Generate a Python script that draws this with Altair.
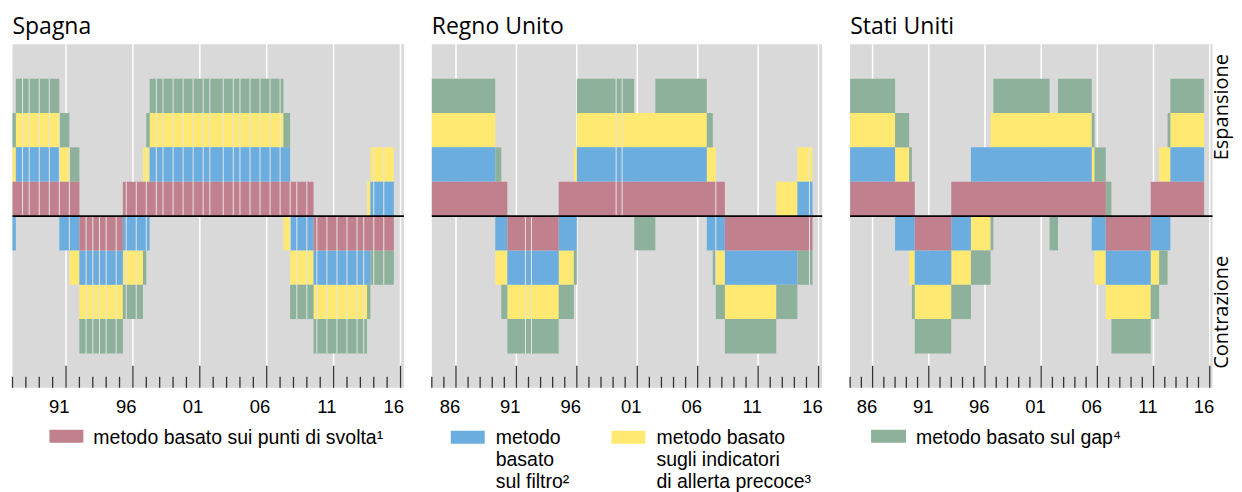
import altair as alt
import pandas as pd

# ---------------- data ----------------
METHOD_KEYS = ["svolta", "filtro", "allerta", "gap"]
METHOD_COLORS = ["#C1808E", "#6CADDF", "#FFE973", "#8DB19B"]
LEGEND_TEXT = [
    "metodo basato sui punti di svolta¹",
    "metodo\nbasato\nsul filtro²",
    "metodo basato\nsugli indicatori\ndi allerta precoce³",
    "metodo basato sul gap⁴",
]

PANEL_TITLES = ["Spagna", "Regno Unito", "Stati Uniti"]
DATA_START = [1988.0, 1985.0, 1985.0]
DATA_END = [2016.5, 2016.5, 2016.5]
AXIS_START = [1988.0, 1985.0, 1985.0]
AXIS_END = [2017.25, 2017.3, 2017.25]

# contraction phases (start, end) for each method; expansion otherwise
ES_SVOLTA = [(1993.0, 1996.25), (2010.5, 2016.5)]
ES_FILTRO = [(1988.0, 1988.25), (1991.5, 1998.25), (2008.75, 2014.75)]
ES_ALLERTA = [(1992.25, 1997.75), (2008.25, 2014.5)]
ES_GAP = [(1993.0, 1998.0), (2008.75, 2016.5)]

UK_SVOLTA = [(1991.25, 1995.5), (2009.25, 2016.5)]
UK_FILTRO = [(1990.25, 1997.0), (2007.75, 2015.25)]
UK_ALLERTA = [(1990.25, 1996.75), (2008.5, 2013.5)]
UK_GAP = [(1990.75, 1997.0), (2001.75, 2003.5), (2008.25, 2016.5)]

US_SVOLTA = [(1990.75, 1994.0), (2007.75, 2011.75)]
US_FILTRO = [(1989.0, 1995.75), (2006.5, 2013.5)]
US_ALLERTA = [(1990.25, 1997.5), (2006.75, 2012.5)]
US_GAP = [(1990.5, 1997.75), (2002.75, 2003.5), (2008.25, 2013.25)]

PHASES = [
    [ES_SVOLTA, ES_FILTRO, ES_ALLERTA, ES_GAP],
    [UK_SVOLTA, UK_FILTRO, UK_ALLERTA, UK_GAP],
    [US_SVOLTA, US_FILTRO, US_ALLERTA, US_GAP],
]

# thin light seams visible inside the bars of the original
ES_SEAMS = [1988.75, 1989.25, 1990.0, 1990.75, 1991.5, 1992.25, 1993.5, 1994.0, 1994.5,
            1995.0, 1995.75, 1996.5, 1997.25, 1998.0, 1998.75, 1999.25, 2000.0, 2000.75,
            2001.5, 2002.25, 2002.75, 2003.75, 2004.5, 2005.0, 2005.75, 2006.5, 2007.25,
            2008.0, 2008.75, 2009.25, 2010.0, 2010.75, 2011.5, 2012.25, 2013.0, 2013.75,
            2014.25, 2015.0, 2015.75]
UK_SEAMS = [1992.75, 1993.25, 2000.25, 2000.75, 2008.5, 2016.25]
US_SEAMS = []
SEAMS = [ES_SEAMS, UK_SEAMS, US_SEAMS]

MAJOR_TICKS = [1987, 1992, 1997, 2002, 2007, 2012, 2017]
TICK_LABEL_YEARS = [1986, 1991, 1996, 2001, 2006, 2011, 2016]
TICK_LABELS = ["86", "91", "96", "01", "06", "11", "16"]

SIDE_LABELS = ["Espansione", "Contrazione"]
SIDE_LABEL_Y = [3.17, -2.8]

# ---------------- layout ----------------
WIDTHS = [392, 391, 363]
HEIGHT = 344
STEP = 0.25


def states(start, end, phases):
    n = int(round((end - start) / STEP))
    out = []
    for i in range(n):
        q = start + STEP * i
        mid = q + STEP / 2
        out.append((q, [any(a <= mid < b for a, b in ph) for ph in phases]))
    return out


def stacked_runs(start, end, phases):
    """Quarterly +1/-1 states stacked from zero, merged into runs."""
    rows = []
    for q, contr in states(start, end, phases):
        pos, neg = 0, 0
        for key, c in zip(METHOD_KEYS, contr):
            if c:
                rows.append([key, q, q + STEP, neg, neg - 1])
                neg -= 1
            else:
                rows.append([key, q, q + STEP, pos, pos + 1])
                pos += 1
    rows.sort(key=lambda r: (r[0], r[3], r[4], r[1]))
    merged = []
    for r in rows:
        m = merged[-1] if merged else None
        if m and m[0] == r[0] and m[3] == r[3] and m[4] == r[4] and abs(m[2] - r[1]) < 1e-9:
            m[2] = r[2]
        else:
            merged.append(list(r))
    return pd.DataFrame(merged, columns=["method", "x0", "x1", "y0", "y1"])


def seam_rows(start, end, phases, seams):
    st = {round(q, 3): c for q, c in states(start, end, phases)}
    rows = []
    for s in seams:
        before = st.get(round(s - STEP, 3))
        after = st.get(round(s, 3))
        if before is None or after is None:
            continue
        top = min(sum(1 for c in before if not c), sum(1 for c in after if not c))
        bot = min(sum(1 for c in before if c), sum(1 for c in after if c))
        rows.append([s, -bot, top])
    return pd.DataFrame(rows, columns=["year", "lo", "hi"])


cscale = alt.Scale(domain=METHOD_KEYS, range=METHOD_COLORS)
ys = alt.Scale(domain=[-5, 5], nice=False, zero=False)

LEGEND_ITEMS = [
    [(0, 37, 71, 386, 399, 81, 400)],
    [(1, 19, 53, 387, 400, 64, 400), (2, 180, 214, 387, 400, 225, 400)],
    [(3, 21, 56, 386, 399, 66, 400)],
]


def panel(i):
    xs = alt.Scale(domain=[AXIS_START[i], AXIS_END[i]], nice=False, zero=False)
    w = WIDTHS[i]
    majors = [y for y in MAJOR_TICKS if AXIS_START[i] <= y <= AXIS_END[i]]
    minors = [y for y in range(int(AXIS_START[i]), int(AXIS_END[i]) + 1) if y not in majors]
    labs = [(y + 0.5, l) for y, l in zip(TICK_LABEL_YEARS, TICK_LABELS) if y >= AXIS_START[i]]

    grid = alt.Chart(pd.DataFrame({"year": majors})).mark_rule(color="white", strokeWidth=1.5).encode(
        x=alt.X("year:Q", scale=xs, axis=None)
    )
    df = stacked_runs(DATA_START[i], DATA_END[i], PHASES[i])
    bars = alt.Chart(df).mark_rect().encode(
        x=alt.X("x0:Q", scale=xs, axis=None),
        x2="x1:Q",
        y=alt.Y("y0:Q", scale=ys, axis=None),
        y2="y1:Q",
        color=alt.Color("method:N", scale=cscale, legend=None),
    )
    layers = [grid, bars]

    sdf = seam_rows(DATA_START[i], DATA_END[i], PHASES[i], SEAMS[i])
    if len(sdf):
        seams = alt.Chart(sdf).mark_rule(color="#E4E4E4", strokeWidth=1).encode(
            x=alt.X("year:Q", scale=xs, axis=None),
            y=alt.Y("lo:Q", scale=ys, axis=None),
            y2="hi:Q",
        )
        layers.append(seams)

    zero = alt.Chart(pd.DataFrame({"v": [0]})).mark_rule(color="black", strokeWidth=1.7).encode(
        y=alt.Y("v:Q", scale=ys, axis=None)
    )
    tmaj = alt.Chart(pd.DataFrame({"year": majors})).mark_rule(color="#333333", strokeWidth=1.3).encode(
        x=alt.X("year:Q", scale=xs, axis=None),
        y=alt.Y(datum=-5, scale=ys, axis=None),
        y2=alt.datum(-4.36),
    )
    tmin = alt.Chart(pd.DataFrame({"year": minors})).mark_rule(color="#333333", strokeWidth=1.3).encode(
        x=alt.X("year:Q", scale=xs, axis=None),
        y=alt.Y(datum=-5, scale=ys, axis=None),
        y2=alt.datum(-4.68),
    )
    xlab = alt.Chart(pd.DataFrame(labs, columns=["pos", "label"])).mark_text(
        font="Liberation Sans", fontSize=18.5, baseline="alphabetic", align="center", color="black"
    ).encode(x=alt.X("pos:Q", scale=xs, axis=None), y=alt.value(HEIGHT + 25), text="label:N")

    title = alt.Chart(pd.DataFrame({"t": [PANEL_TITLES[i]]})).mark_text(
        font="Open Sans", fontSize=23, align="left", baseline="alphabetic", color="black"
    ).encode(x=alt.value(0), y=alt.value(-10), text="t:N")

    layers += [zero, tmaj, tmin, xlab, title]

    for (m, sx0, sx1, sy0, sy1, tx, ty) in LEGEND_ITEMS[i]:
        ldf = pd.DataFrame({"method": [METHOD_KEYS[m]], "label": [LEGEND_TEXT[m]]})
        sw = alt.Chart(ldf).mark_rect().encode(
            x=alt.value(sx0), x2=alt.value(sx1), y=alt.value(sy0), y2=alt.value(sy1),
            color=alt.Color("method:N", scale=cscale, legend=None),
        )
        tx_ = alt.Chart(ldf).mark_text(
            font="Liberation Sans", fontSize=19.5, align="left", baseline="alphabetic",
            lineBreak="\n", lineHeight=22, color="black"
        ).encode(x=alt.value(tx), y=alt.value(ty), text="label:N")
        layers += [sw, tx_]

    if i == 2:
        side = alt.Chart(pd.DataFrame({"t": SIDE_LABELS, "yy": SIDE_LABEL_Y})).mark_text(
            font="Open Sans", fontSize=20, angle=270, align="center", baseline="alphabetic", color="black"
        ).encode(x=alt.value(w + 15), y=alt.Y("yy:Q", scale=ys, axis=None), text="t:N")
        layers.append(side)

    return alt.layer(*layers).properties(width=w, height=HEIGHT)


chart = alt.hconcat(panel(0), panel(1), panel(2), spacing=28, bounds="flush").configure_view(
    fill="#D9D9D9", strokeWidth=0
).properties(
    padding={"left": 3.5, "top": 8, "right": 2.5, "bottom": 0},
    background="white",
)

chart.save("out.html", embed_options={"renderer": "svg", "actions": False})
